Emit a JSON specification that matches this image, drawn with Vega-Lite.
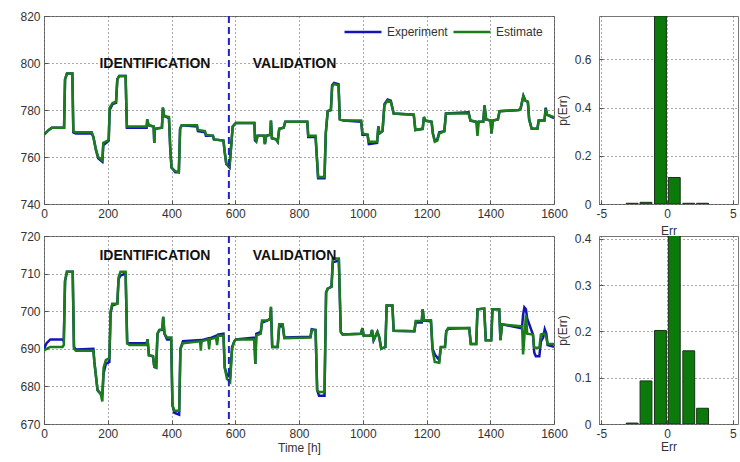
{
"$schema": "https://vega.github.io/schema/vega-lite/v6.json",
"background": "white",
"padding": {"left": 19, "top": 9, "right": 2, "bottom": 2},
"bounds": "flush",
"columns": 2,
"align": "each",
"spacing": {"row": 32, "column": 45},
"resolve": {"legend": {"color": "independent"}},
"config": {
  "view": {"stroke": "#777777", "strokeWidth": 1},
  "axis": {"labelFont": "Liberation Sans", "labelFontSize": 12, "labelColor": "#333333", "ticks": true, "tickSize": -4, "tickColor": "#555555", "domain": false, "tickCount": 20,
           "titleFont": "Liberation Sans", "titleFontSize": 12, "titleFontWeight": "normal", "titleColor": "#333333",
           "gridColor": "#444444", "gridDash": [1, 3], "gridOpacity": 0.9, "labelPadding": 8, "labelFlush": false, "labelOverlap": false, "labelBound": false}
},
"datasets": {
  "top": [
{"t":0,"exp":769.5,"est":769.5},{"t":15,"exp":771.5,"est":771.5},{"t":25,"exp":772.5,"est":772.5},{"t":63,"exp":772.5,"est":772.5},{"t":66,"exp":793,"est":793},{"t":72,"exp":795.5,"est":795.5},{"t":89,"exp":795.5,"est":795.5},{"t":92,"exp":770.5,"est":771},{"t":100,"exp":770,"est":770.5},{"t":150,"exp":770,"est":770.5},{"t":155,"exp":768.5,"est":768.5},{"t":163,"exp":763,"est":763},{"t":170,"exp":759.5,"est":760},{"t":183,"exp":758,"est":758.5},{"t":186,"exp":765,"est":766},{"t":200,"exp":766.5,"est":767},{"t":203,"exp":767,"est":767.5},{"t":206,"exp":780,"est":781},{"t":215,"exp":782.5,"est":783},{"t":226,"exp":783,"est":783.5},{"t":230,"exp":793,"est":793},{"t":236,"exp":794.5,"est":794.5},{"t":256,"exp":794.5,"est":794.5},{"t":260,"exp":772.5,"est":773},{"t":322,"exp":772.5,"est":773},{"t":324,"exp":776,"est":776},{"t":328,"exp":773.5,"est":773.5},{"t":344,"exp":773,"est":773},{"t":346,"exp":766,"est":766},{"t":348,"exp":772,"est":772},{"t":370,"exp":772.5,"est":772.5},{"t":373,"exp":781,"est":781},{"t":377,"exp":777.5,"est":777.5},{"t":392,"exp":776.5,"est":777},{"t":396,"exp":764,"est":764},{"t":400,"exp":755.5,"est":755.5},{"t":412,"exp":753.5,"est":754},{"t":423,"exp":753.5,"est":753.5},{"t":427,"exp":772,"est":772},{"t":432,"exp":773.5,"est":773.5},{"t":480,"exp":773,"est":773.5},{"t":483,"exp":771,"est":771.5},{"t":505,"exp":770.5,"est":771},{"t":508,"exp":769,"est":769.5},{"t":530,"exp":769,"est":769},{"t":533,"exp":767.5,"est":767.5},{"t":563,"exp":767,"est":767},{"t":567,"exp":762,"est":762},{"t":572,"exp":757,"est":757},{"t":582,"exp":755.5,"est":756},{"t":588,"exp":766,"est":766},{"t":592,"exp":773,"est":773},{"t":602,"exp":774.5,"est":774.5},{"t":660,"exp":774.5,"est":774.5},{"t":662,"exp":767,"est":768},{"t":666,"exp":766.5,"est":767},{"t":670,"exp":769,"est":769},{"t":690,"exp":769,"est":769},{"t":693,"exp":765.5,"est":765.5},{"t":697,"exp":769,"est":769},{"t":710,"exp":769.5,"est":769.5},{"t":712,"exp":775.5,"est":775.5},{"t":715,"exp":768,"est":768},{"t":728,"exp":767.5,"est":767.5},{"t":733,"exp":766.5,"est":766.5},{"t":738,"exp":772,"est":772},{"t":752,"exp":772.5,"est":772.5},{"t":757,"exp":775,"est":775},{"t":826,"exp":775,"est":775},{"t":829,"exp":768.5,"est":769},{"t":852,"exp":768.5,"est":769},{"t":856,"exp":760,"est":760},{"t":860,"exp":751,"est":751.5},{"t":880,"exp":751,"est":751.5},{"t":884,"exp":770,"est":770},{"t":890,"exp":779.5,"est":779.5},{"t":900,"exp":780,"est":780},{"t":904,"exp":790.5,"est":790},{"t":910,"exp":791.5,"est":791},{"t":924,"exp":791,"est":790.5},{"t":928,"exp":776,"est":776},{"t":940,"exp":775.5,"est":775.5},{"t":995,"exp":775,"est":775.5},{"t":999,"exp":769.5,"est":770},{"t":1015,"exp":769.5,"est":769.5},{"t":1019,"exp":765.5,"est":766.5},{"t":1045,"exp":766,"est":766.5},{"t":1049,"exp":773,"est":773},{"t":1052,"exp":770,"est":770},{"t":1062,"exp":771,"est":771},{"t":1068,"exp":782.5,"est":782},{"t":1078,"exp":784.5,"est":784},{"t":1088,"exp":784,"est":783.5},{"t":1097,"exp":778.5,"est":778.5},{"t":1160,"exp":778,"est":778},{"t":1165,"exp":771.5,"est":771.5},{"t":1188,"exp":772,"est":772},{"t":1192,"exp":777,"est":777},{"t":1196,"exp":775.5,"est":775.5},{"t":1216,"exp":775,"est":775},{"t":1220,"exp":770,"est":770},{"t":1226,"exp":767,"est":766.5},{"t":1234,"exp":767.5,"est":767},{"t":1240,"exp":770.5,"est":770},{"t":1256,"exp":771,"est":771},{"t":1261,"exp":778.5,"est":778.5},{"t":1332,"exp":779,"est":778.5},{"t":1338,"exp":775.5,"est":775.5},{"t":1356,"exp":775,"est":775},{"t":1360,"exp":774,"est":769},{"t":1364,"exp":775,"est":775},{"t":1378,"exp":775,"est":775},{"t":1382,"exp":782,"est":782},{"t":1387,"exp":776,"est":776},{"t":1401,"exp":775.5,"est":775.5},{"t":1404,"exp":770,"est":770},{"t":1408,"exp":775.5,"est":775.5},{"t":1424,"exp":776,"est":776},{"t":1429,"exp":779.5,"est":779.5},{"t":1490,"exp":780,"est":780},{"t":1495,"exp":780.5,"est":780.5},{"t":1504,"exp":786,"est":786},{"t":1510,"exp":784,"est":784},{"t":1518,"exp":783.5,"est":783.5},{"t":1522,"exp":776,"est":776},{"t":1530,"exp":772,"est":772},{"t":1548,"exp":772,"est":772},{"t":1552,"exp":775.5,"est":775.5},{"t":1570,"exp":775.5,"est":775.5},{"t":1574,"exp":781,"est":780.5},{"t":1578,"exp":778,"est":778},{"t":1600,"exp":776.5,"est":777}
  ],
  "bot": [
{"t":0,"exp":690,"est":689.5},{"t":8,"exp":691.5,"est":690},{"t":20,"exp":692.5,"est":690.5},{"t":58,"exp":692.5,"est":690.5},{"t":62,"exp":692,"est":691},{"t":66,"exp":708,"est":708},{"t":72,"exp":710.5,"est":710.5},{"t":90,"exp":710.5,"est":710.5},{"t":94,"exp":690.5,"est":690},{"t":100,"exp":689.8,"est":689.5},{"t":155,"exp":690,"est":689.5},{"t":158,"exp":686.5,"est":686.5},{"t":168,"exp":679,"est":679},{"t":178,"exp":678,"est":678},{"t":183,"exp":678,"est":676},{"t":187,"exp":683.5,"est":685},{"t":194,"exp":686,"est":687},{"t":205,"exp":686.5,"est":687.5},{"t":209,"exp":699.5,"est":700},{"t":214,"exp":701.5,"est":702},{"t":230,"exp":702,"est":702},{"t":234,"exp":708.5,"est":709},{"t":240,"exp":709.5,"est":710.5},{"t":256,"exp":710,"est":710.5},{"t":261,"exp":691.5,"est":691.5},{"t":268,"exp":691.5,"est":691},{"t":322,"exp":691.5,"est":691},{"t":325,"exp":692.5,"est":692.5},{"t":329,"exp":688.3,"est":688.3},{"t":342,"exp":688,"est":688},{"t":346,"exp":685.2,"est":685.2},{"t":352,"exp":685,"est":685},{"t":356,"exp":694,"est":694},{"t":362,"exp":695,"est":695},{"t":371,"exp":695,"est":695.2},{"t":374,"exp":698.5,"est":698.5},{"t":378,"exp":694,"est":694},{"t":386,"exp":692.5,"est":693},{"t":399,"exp":692.5,"est":693},{"t":403,"exp":675,"est":675},{"t":409,"exp":673,"est":673.5},{"t":424,"exp":672.5,"est":673.5},{"t":428,"exp":690,"est":690},{"t":436,"exp":692,"est":691.5},{"t":490,"exp":692.3,"est":692},{"t":492,"exp":691,"est":689.5},{"t":494,"exp":692.3,"est":692},{"t":516,"exp":692.8,"est":692.5},{"t":518,"exp":691,"est":690},{"t":520,"exp":692.8,"est":692.5},{"t":540,"exp":693.5,"est":693},{"t":543,"exp":692,"est":691},{"t":546,"exp":693.8,"est":693.5},{"t":563,"exp":694,"est":693.5},{"t":567,"exp":685,"est":685},{"t":574,"exp":683,"est":682},{"t":584,"exp":682.5,"est":681.2},{"t":590,"exp":690.5,"est":690},{"t":597,"exp":692,"est":692},{"t":602,"exp":692.5,"est":692.5},{"t":660,"exp":693,"est":692.5},{"t":663,"exp":686,"est":686},{"t":666,"exp":694,"est":693.5},{"t":680,"exp":694.5,"est":694},{"t":684,"exp":697,"est":697.5},{"t":700,"exp":697.5,"est":697.5},{"t":710,"exp":698,"est":698},{"t":712,"exp":701,"est":701.2},{"t":716,"exp":690.5,"est":690.5},{"t":733,"exp":690.5,"est":690.5},{"t":738,"exp":696,"est":696.5},{"t":749,"exp":696,"est":696.5},{"t":754,"exp":693,"est":692.8},{"t":836,"exp":693.2,"est":693},{"t":840,"exp":695.2,"est":695},{"t":852,"exp":695,"est":695},{"t":857,"exp":679,"est":679},{"t":863,"exp":677.5,"est":678.5},{"t":880,"exp":677.5,"est":678.5},{"t":885,"exp":705,"est":705},{"t":890,"exp":706,"est":706},{"t":902,"exp":706.5,"est":706.5},{"t":906,"exp":713,"est":714},{"t":925,"exp":713.5,"est":714},{"t":931,"exp":694.5,"est":694.5},{"t":937,"exp":693.8,"est":693.8},{"t":994,"exp":694,"est":694},{"t":999,"exp":695.5,"est":695.5},{"t":1003,"exp":693.5,"est":693.5},{"t":1025,"exp":693.5,"est":693.5},{"t":1029,"exp":695,"est":695},{"t":1034,"exp":692.3,"est":692.3},{"t":1046,"exp":694.5,"est":694.5},{"t":1052,"exp":693,"est":693},{"t":1058,"exp":690,"est":690},{"t":1071,"exp":690.5,"est":690.5},{"t":1075,"exp":701.5,"est":701.5},{"t":1093,"exp":701.5,"est":701.5},{"t":1097,"exp":694.8,"est":694.8},{"t":1162,"exp":694.7,"est":694.7},{"t":1166,"exp":697,"est":697.4},{"t":1185,"exp":697,"est":697.4},{"t":1188,"exp":700.5,"est":700.5},{"t":1192,"exp":697.5,"est":697.6},{"t":1214,"exp":697.3,"est":697.6},{"t":1219,"exp":690,"est":689.5},{"t":1226,"exp":688.5,"est":686.5},{"t":1240,"exp":687,"est":686.3},{"t":1245,"exp":690.5,"est":690.4},{"t":1258,"exp":690.5,"est":690.5},{"t":1262,"exp":694.7,"est":694.7},{"t":1268,"exp":695.3,"est":695.5},{"t":1334,"exp":695.5,"est":695.5},{"t":1339,"exp":691.3,"est":691.3},{"t":1356,"exp":691.3,"est":691.3},{"t":1360,"exp":700.5,"est":700.5},{"t":1381,"exp":700.7,"est":700.7},{"t":1386,"exp":692.3,"est":692.3},{"t":1403,"exp":692.3,"est":692.3},{"t":1407,"exp":700.5,"est":700.5},{"t":1428,"exp":700.5,"est":700.5},{"t":1432,"exp":692.3,"est":692.3},{"t":1437,"exp":696.5,"est":696.5},{"t":1496,"exp":695.5,"est":696},{"t":1500,"exp":696,"est":696},{"t":1503,"exp":699,"est":688.5},{"t":1507,"exp":701,"est":693},{"t":1512,"exp":700.5,"est":699},{"t":1516,"exp":698,"est":694},{"t":1534,"exp":693.8,"est":693.8},{"t":1538,"exp":689,"est":690.3},{"t":1543,"exp":688,"est":690.3},{"t":1554,"exp":688,"est":690.3},{"t":1559,"exp":692,"est":693.8},{"t":1566,"exp":693,"est":694},{"t":1571,"exp":695.2,"est":694},{"t":1576,"exp":694,"est":693},{"t":1580,"exp":691,"est":691.3},{"t":1600,"exp":690.5,"est":691.3}
  ],
  "htop": [
{"lo":-3.1,"hi":-2.2,"p":0.003},{"lo":-2.05,"hi":-1.15,"p":0.007},{"lo":-0.95,"hi":-0.05,"p":0.78},{"lo":0.1,"hi":1.0,"p":0.11},{"lo":1.2,"hi":2.1,"p":0.003},{"lo":2.25,"hi":3.15,"p":0.003}
  ],
  "hbot": [
{"lo":-3.1,"hi":-2.2,"p":0.002},{"lo":-2.05,"hi":-1.15,"p":0.093},{"lo":-0.95,"hi":-0.05,"p":0.202},{"lo":0.1,"hi":1.0,"p":0.42},{"lo":1.2,"hi":2.1,"p":0.158},{"lo":2.25,"hi":3.15,"p":0.034}
  ]
},
"concat": [
  {
    "width": 510, "height": 188,
    "layer": [
      {"data": {"name": "top"}, "mark": {"type": "line", "strokeWidth": 2.5, "clip": true},
       "encoding": {
         "x": {"field": "t", "type": "quantitative", "scale": {"domain": [0, 1600], "nice": false, "zero": false},
               "axis": {"values": [0,200,400,600,800,1000,1200,1400,1600], "format": "d", "grid": true, "title": null, "labelOverlap": false}},
         "y": {"field": "exp", "type": "quantitative", "scale": {"domain": [740, 820], "nice": false, "zero": false},
               "axis": {"values": [740,760,780,800,820], "grid": true, "title": null, "labelOverlap": false}},
         "color": {"datum": "Experiment", "scale": {"domain": ["Experiment", "Estimate"], "range": ["#1515b5", "#1a7d1a"]},
                   "legend": {"orient": "none", "legendX": 299, "legendY": -4, "direction": "horizontal", "title": null,
                              "symbolType": "stroke", "symbolSize": 1369, "symbolStrokeWidth": 2.5,
                              "labelFont": "Liberation Sans", "labelFontSize": 12, "labelColor": "#333333",
                              "columnPadding": 0, "labelOffset": 4, "padding": 0}}
       }},
      {"data": {"name": "top"}, "mark": {"type": "line", "strokeWidth": 2.5, "clip": true},
       "encoding": {
         "x": {"field": "t", "type": "quantitative"},
         "y": {"field": "est", "type": "quantitative"},
         "color": {"datum": "Estimate"}
       }},
      {"data": {"values": [{}]}, "mark": {"type": "rule", "strokeDash": [7, 4], "strokeWidth": 2, "color": "#2020cc"},
       "encoding": {"x": {"datum": 580}}},
      {"data": {"values": [{"t": 348, "v": 799.6, "label": "IDENTIFICATION"}, {"t": 786, "v": 799.6, "label": "VALIDATION"}]},
       "mark": {"type": "text", "font": "Liberation Sans", "fontWeight": "bold", "fontSize": 14, "color": "#111111"},
       "encoding": {"x": {"field": "t", "type": "quantitative"}, "y": {"field": "v", "type": "quantitative"}, "text": {"field": "label"}}}
    ]
  },
  {
    "width": 139, "height": 188,
    "data": {"name": "htop"},
    "mark": {"type": "bar", "fill": "#0b7a0b", "stroke": "#173017", "strokeWidth": 1, "clip": true},
    "encoding": {
      "x": {"field": "lo", "type": "quantitative", "scale": {"domain": [-5.17, 5.39], "nice": false, "zero": false},
            "axis": {"values": [-5, 0, 5], "labelExpr": "'' + datum.value", "title": "Err", "titlePadding": 6}},
      "x2": {"field": "hi"},
      "y": {"field": "p", "type": "quantitative", "scale": {"domain": [0, 0.78], "nice": false},
            "axis": {"values": [0, 0.2, 0.4, 0.6], "format": "~g", "title": "p(Err)", "labelPadding": 12, "titlePadding": 5, "labelOverlap": false}},
      "y2": {"datum": 0}
    }
  },
  {
    "width": 510, "height": 188,
    "layer": [
      {"data": {"name": "bot"}, "mark": {"type": "line", "strokeWidth": 2.5, "clip": true},
       "encoding": {
         "x": {"field": "t", "type": "quantitative", "scale": {"domain": [0, 1600], "nice": false, "zero": false},
               "axis": {"values": [0,200,400,600,800,1000,1200,1400,1600], "format": "d", "grid": true, "title": "Time [h]", "titlePadding": 3, "labelOverlap": false}},
         "y": {"field": "exp", "type": "quantitative", "scale": {"domain": [670, 720], "nice": false, "zero": false},
               "axis": {"values": [670,680,690,700,710,720], "tickCount": 20, "grid": true, "title": null, "labelOverlap": false}},
         "color": {"datum": "Experiment", "scale": {"domain": ["Experiment", "Estimate"], "range": ["#1515b5", "#1a7d1a"]}, "legend": null}
       }},
      {"data": {"name": "bot"}, "mark": {"type": "line", "strokeWidth": 2.5, "clip": true},
       "encoding": {
         "x": {"field": "t", "type": "quantitative"},
         "y": {"field": "est", "type": "quantitative"},
         "color": {"datum": "Estimate", "legend": null}
       }},
      {"data": {"values": [{}]}, "mark": {"type": "rule", "strokeDash": [7, 4], "strokeWidth": 2, "color": "#2020cc"},
       "encoding": {"x": {"datum": 580}}},
      {"data": {"values": [{"t": 348, "v": 714.7, "label": "IDENTIFICATION"}, {"t": 786, "v": 714.7, "label": "VALIDATION"}]},
       "mark": {"type": "text", "font": "Liberation Sans", "fontWeight": "bold", "fontSize": 14, "color": "#111111"},
       "encoding": {"x": {"field": "t", "type": "quantitative"}, "y": {"field": "v", "type": "quantitative"}, "text": {"field": "label"}}}
    ]
  },
  {
    "width": 139, "height": 188,
    "data": {"name": "hbot"},
    "mark": {"type": "bar", "fill": "#0b7a0b", "stroke": "#173017", "strokeWidth": 1, "clip": true},
    "encoding": {
      "x": {"field": "lo", "type": "quantitative", "scale": {"domain": [-5.17, 5.39], "nice": false, "zero": false},
            "axis": {"values": [-5, 0, 5], "labelExpr": "'' + datum.value", "title": "Err", "titlePadding": 2}},
      "x2": {"field": "hi"},
      "y": {"field": "p", "type": "quantitative", "scale": {"domain": [0, 0.406], "nice": false},
            "axis": {"values": [0, 0.1, 0.2, 0.3, 0.4], "format": "~g", "title": "p(Err)", "labelPadding": 12, "titlePadding": 5, "labelOverlap": false}},
      "y2": {"datum": 0}
    }
  }
]
}
